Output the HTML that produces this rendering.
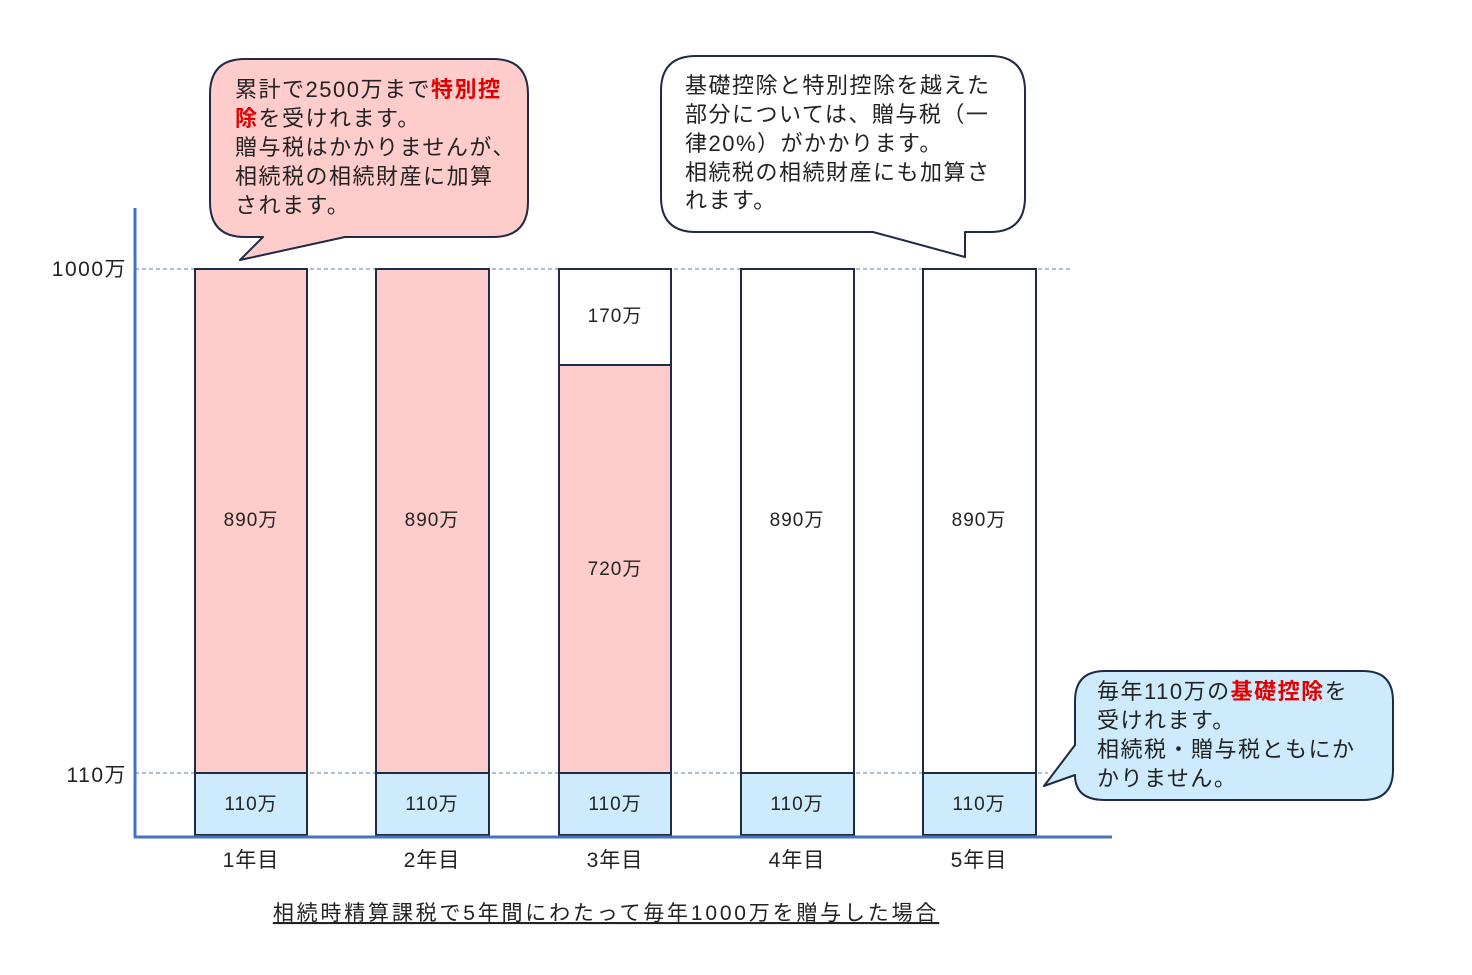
<!DOCTYPE html>
<html><head><meta charset="utf-8"><style>
body{margin:0;background:#fff}
svg{display:block}
text{font-family:"Liberation Sans","Noto Sans CJK JP",sans-serif;fill:#222}
.r{fill:#e00000;font-weight:bold}
</style></head><body>
<svg width="1472" height="975" viewBox="0 0 1472 975">
<g stroke="#5b7fa8" stroke-width="1" stroke-dasharray="4,3">
<line x1="135" y1="269" x2="1072" y2="269"/>
<line x1="135" y1="773" x2="1048" y2="773"/>
</g>
<g stroke="#1f2a44" stroke-width="2">
<rect x="195" y="269" width="112" height="504" fill="#ffcccc"/>
<rect x="376" y="269" width="113" height="504" fill="#ffcccc"/>
<rect x="559" y="269" width="112" height="96" fill="#fff"/>
<rect x="559" y="365" width="112" height="408" fill="#ffcccc"/>
<rect x="741" y="269" width="113" height="504" fill="#fff"/>
<rect x="923" y="269" width="113" height="504" fill="#fff"/>
<rect x="195" y="773" width="112" height="62" fill="#cdebfc"/>
<rect x="376" y="773" width="113" height="62" fill="#cdebfc"/>
<rect x="559" y="773" width="112" height="62" fill="#cdebfc"/>
<rect x="741" y="773" width="113" height="62" fill="#cdebfc"/>
<rect x="923" y="773" width="113" height="62" fill="#cdebfc"/>
</g>
<g stroke="#4472c4" stroke-width="3">
<line x1="135" y1="208" x2="135" y2="838"/>
<line x1="134" y1="837" x2="1112" y2="837"/>
</g>
<g font-size="19" text-anchor="middle" letter-spacing="1">
<text x="251" y="526">890万</text><text x="432" y="526">890万</text>
<text x="615" y="322">170万</text><text x="615" y="575">720万</text>
<text x="797" y="526">890万</text><text x="979" y="526">890万</text>
<text x="251" y="810">110万</text><text x="432" y="810">110万</text><text x="615" y="810">110万</text><text x="797" y="810">110万</text><text x="979" y="810">110万</text>
</g>
<g font-size="21" text-anchor="middle">
<text x="251" y="867" letter-spacing="1">1年目</text><text x="432" y="867" letter-spacing="1">2年目</text><text x="615" y="867" letter-spacing="1">3年目</text><text x="797" y="867" letter-spacing="1">4年目</text><text x="979" y="867" letter-spacing="1">5年目</text>
<text x="606" y="920" text-decoration="underline" letter-spacing="2.8">相続時精算課税で5年間にわたって毎年1000万を贈与した場合</text>
</g>
<g font-size="21" text-anchor="end" letter-spacing="1.5">
<text x="127" y="276">1000万</text><text x="127" y="782">110万</text>
</g>
<g stroke="#1f2a44" stroke-width="2" stroke-linejoin="round">
<path d="M245,59 H493 Q528,59 528,94 V202 Q528,237 493,237 H345 L240,260 L263,237 H245 Q210,237 210,202 V94 Q210,59 245,59 Z" fill="#ffcccc"/>
<path d="M696,56 H990 Q1025,56 1025,91 V197 Q1025,232 990,232 H965 L965,257 L873,232 H696 Q661,232 661,197 V91 Q661,56 696,56 Z" fill="#fff"/>
<path d="M1105,671 H1363 Q1393,671 1393,701 V770 Q1393,800 1363,800 H1105 Q1075,800 1075,775 L1044,786 L1075,745 V701 Q1075,671 1105,671 Z" fill="#cdebfc"/>
</g>
<g font-size="22" letter-spacing="1.5">
<text x="235" y="97">累計で2500万まで<tspan class="r">特別控</tspan></text>
<text x="235" y="126"><tspan class="r">除</tspan>を受けれます。</text>
<text x="235" y="155">贈与税はかかりませんが、</text>
<text x="235" y="184">相続税の相続財産に加算</text>
<text x="235" y="213">されます。</text>
<text x="685" y="93">基礎控除と特別控除を越えた</text>
<text x="685" y="122">部分については、贈与税（一</text>
<text x="685" y="151">律20%）がかかります。</text>
<text x="685" y="180">相続税の相続財産にも加算さ</text>
<text x="685" y="208">れます。</text>
<text x="1097" y="699">毎年110万の<tspan class="r">基礎控除</tspan>を</text>
<text x="1097" y="728">受けれます。</text>
<text x="1097" y="757">相続税・贈与税ともにか</text>
<text x="1097" y="786">かりません。</text>
</g>
</svg>
</body></html>
